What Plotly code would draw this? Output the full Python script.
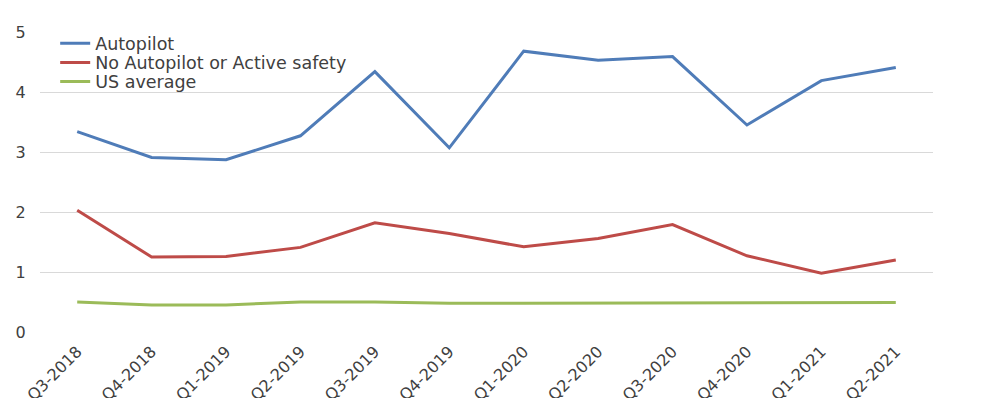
import plotly.graph_objects as go

quarters = ["Q3-2018", "Q4-2018", "Q1-2019", "Q2-2019", "Q3-2019", "Q4-2019",
            "Q1-2020", "Q2-2020", "Q3-2020", "Q4-2020", "Q1-2021", "Q2-2021"]
autopilot = [3.34, 2.91, 2.87, 3.27, 4.34, 3.07, 4.68, 4.53, 4.59, 3.45, 4.19, 4.41]
no_autopilot = [2.03, 1.25, 1.26, 1.41, 1.82, 1.64, 1.42, 1.56, 1.79, 1.27, 0.98, 1.20]
us_average = [0.50, 0.45, 0.45, 0.50, 0.50, 0.48, 0.48, 0.48, 0.48, 0.49, 0.49, 0.49]

series = [
    ("Autopilot", autopilot, "#4F7CB8", "legend"),
    ("No Autopilot or Active safety", no_autopilot, "#BE4B48", "legend2"),
    ("US average", us_average, "#9BBB59", "legend3"),
]

fig = go.Figure()
for name, vals, color, lg in series:
    fig.add_trace(go.Scatter(x=quarters, y=vals, name=name, mode="lines",
                             line=dict(color=color, width=3), legend=lg))

FONT = "DejaVu Sans"
TXT = "#404040"
leg_common = dict(x=0.017, xanchor="left", yanchor="top",
                  bgcolor="rgba(0,0,0,0)", font=dict(size=17.5, color=TXT),
                  itemwidth=30)

fig.update_layout(
    width=992, height=398,
    margin=dict(l=32, r=67, t=24, b=74),
    paper_bgcolor="white", plot_bgcolor="white",
    font=dict(family=FONT, color=TXT, size=16),
    showlegend=True,
    legend=dict(y=1.022, **leg_common),
    legend2=dict(y=0.958, **leg_common),
    legend3=dict(y=0.895, **leg_common),
    xaxis=dict(type="category", range=[-0.5, 11.5], showgrid=False,
               showline=False, zeroline=False, ticks="outside", ticklen=3,
               tickcolor="rgba(0,0,0,0)", tickangle=-45,
               tickfont=dict(size=16, color=TXT), automargin=False),
    yaxis=dict(range=[0, 5], dtick=1, showgrid=True, gridcolor="#D9D9D9",
               gridwidth=1, zeroline=False, showline=False,
               ticks="outside", ticklen=10, tickcolor="rgba(0,0,0,0)",
               tickfont=dict(size=16, color=TXT), automargin=False),
)

fig.write_html("out.html")
